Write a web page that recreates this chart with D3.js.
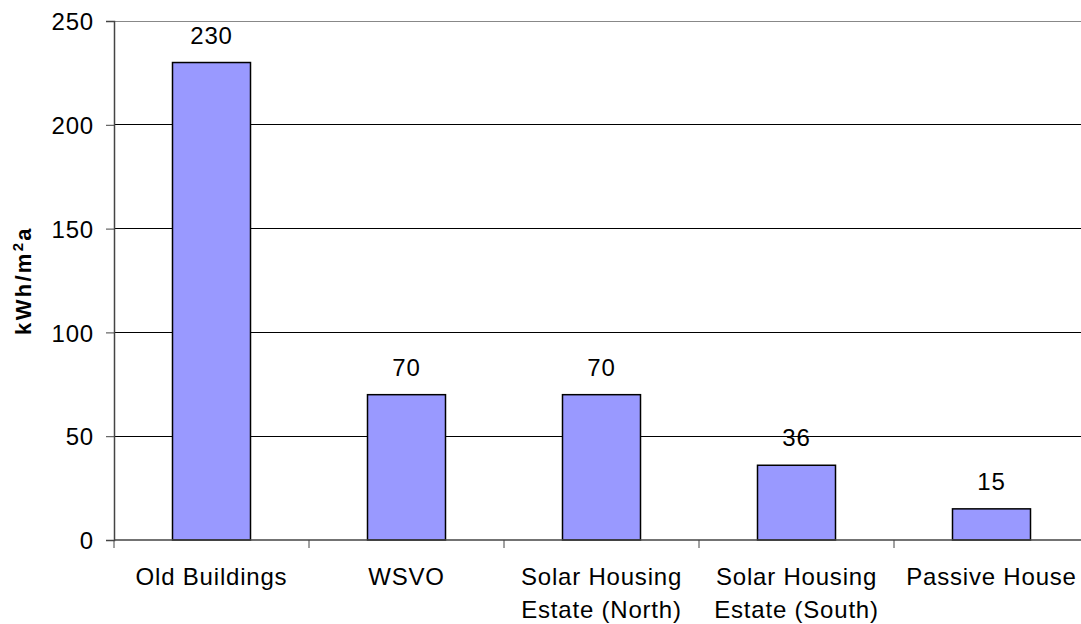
<!DOCTYPE html>
<html>
<head>
<meta charset="utf-8">
<script src="https://cdn.jsdelivr.net/npm/d3@7"></script>
<style>
  body { margin: 0; background: #fff; }
  svg { font-family: "Liberation Sans", Arial, sans-serif; }
</style>
</head>
<body>
<svg id="chart" width="1081" height="624"></svg>
<script>
// categories (each split in lines) and values
const categories = [
  ["Old Buildings"],
  ["WSVO"],
  ["Solar Housing", "Estate (North)"],
  ["Solar Housing", "Estate (South)"],
  ["Passive House"]
]
const values = [230, 70, 70, 36, 15]
const yTicks = [0, 50, 100, 150, 200, 250]

let margin = {top: 21, right: 0, bottom: 84, left: 114}
let W = 1089 - margin.left, H = 540 - margin.top

let svg = d3.select("#chart")
let g = svg.append("g").attr("transform", `translate(${margin.left},${margin.top})`)

let idx = categories.map((d, i) => i)
let scX = d3.scaleBand(idx, [0, W]).paddingInner(0.6).paddingOuter(0.3)
let scBand = d3.scaleBand(idx, [0, W])  // for tick marks between categories
let scY = d3.scaleLinear([0, 250], [H, 0])

// gridlines
g.selectAll(".grid")
  .data(yTicks.filter(d => d > 0))
  .enter().append("line")
  .attr("x1", 0).attr("x2", W)
  .attr("y1", d => scY(d)).attr("y2", d => scY(d))
  .attr("stroke", d => d === 250 ? "#888" : "#000")
  .attr("stroke-width", 1)
  .attr("shape-rendering", "crispEdges")

// bars
g.selectAll(".bar")
  .data(values)
  .enter().append("rect")
  .attr("x", (d, i) => scX(i))
  .attr("y", d => scY(d))
  .attr("width", scX.bandwidth())
  .attr("height", d => H - scY(d))
  .attr("fill", "#9999ff")
  .attr("stroke", "#000")
  .attr("stroke-width", 1.5)

// value labels
g.selectAll(".val")
  .data(values)
  .enter().append("text")
  .attr("x", (d, i) => scX(i) + scX.bandwidth() / 2)
  .attr("y", d => scY(d) - 19)
  .attr("text-anchor", "middle")
  .attr("font-size", 24)
  .attr("letter-spacing", 0.8)
  .text(d => d)

// y axis
let yAxis = d3.axisLeft(scY).tickValues(yTicks).tickSize(8).tickPadding(12)
let ya = g.append("g").call(yAxis)
ya.attr("font-family", null)
ya.select(".domain").attr("stroke", "#444").attr("stroke-width", 1.5)
ya.selectAll(".tick line").attr("stroke", "#444")
ya.selectAll("text").attr("font-size", 24).attr("letter-spacing", 0.8)
  .attr("fill", "#000").attr("dy", "0.36em")

// x axis baseline and ticks
let xa = g.append("g").attr("transform", `translate(0,${H})`)
xa.append("line").attr("x1", 0).attr("x2", W).attr("stroke", "#444").attr("stroke-width", 1.5)
xa.selectAll(".xt")
  .data(idx)
  .enter().append("line")
  .attr("x1", d => scBand(d)).attr("x2", d => scBand(d))
  .attr("y1", 0).attr("y2", 8)
  .attr("stroke", "#444")

// category labels
let lab = xa.selectAll(".cat")
  .data(categories)
  .enter().append("text")
  .attr("text-anchor", "middle")
  .attr("font-size", 24)
  .attr("letter-spacing", 0.8)
  .attr("transform", (d, i) => `translate(${scBand(i) + scBand.bandwidth() / 2},45)`)
lab.selectAll("tspan")
  .data(d => d)
  .enter().append("tspan")
  .attr("x", 0)
  .attr("dy", (d, j) => j === 0 ? 0 : 33)
  .text(d => d)

// y title
let yt = svg.append("text")
  .attr("transform", `translate(31,${margin.top + H / 2}) rotate(-90)`)
  .attr("text-anchor", "middle")
  .attr("font-size", 22)
  .attr("font-weight", "bold")
  .attr("letter-spacing", 2.3)
yt.append("tspan").text("kWh/m")
yt.append("tspan").attr("font-size", 15).attr("dy", -8).text("2")
yt.append("tspan").attr("dy", 8).text("a")
</script>
</body>
</html>
